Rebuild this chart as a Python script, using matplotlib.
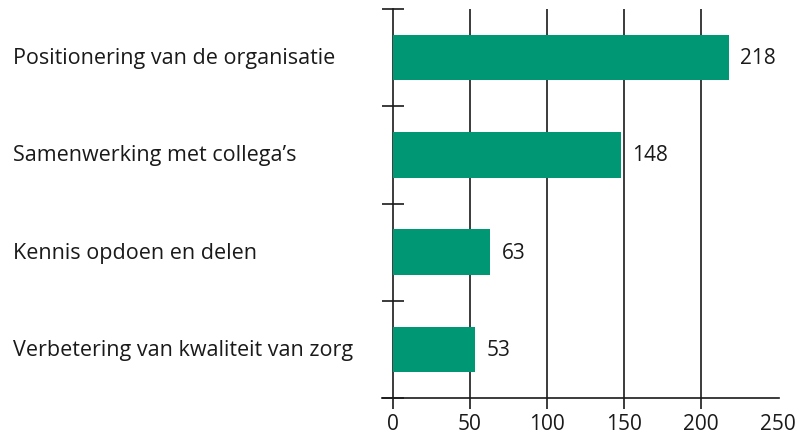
import matplotlib
matplotlib.use("Agg")
import matplotlib.pyplot as plt
from matplotlib.lines import Line2D

categories = ["Positionering van de organisatie", "Samenwerking met collega\u2019s",
              "Kennis opdoen en delen", "Verbetering van kwaliteit van zorg"]
values = [218, 148, 63, 53]
xticks = [0, 50, 100, 150, 200, 250]

GREEN = "#009775"
INK = "#1a1a1a"
plt.rcParams["font.family"] = ["Open Sans", "DejaVu Sans"]

fig = plt.figure(figsize=(8.11, 4.39), dpi=100)
ax = fig.add_axes([393 / 811, 1 - 399 / 439, 385 / 811, 389 / 439])

y = list(range(len(categories)))
ax.barh(y, values, height=0.47, color=GREEN, zorder=3)
for yi, v in zip(y, values):
    ax.text(v + 7.5, yi, str(v), va="center", ha="left", fontsize=15, color=INK)

ax.set_xlim(0, 250)
ax.set_ylim(len(categories) - 0.5, -0.5)

# vertical grid (no line at 250)
for t in xticks[1:-1]:
    ax.axvline(t, color=INK, lw=1.2, zorder=1)

ax.set_xticks(xticks)
ax.set_xticklabels([str(t) for t in xticks], fontsize=15, color=INK)
ax.tick_params(axis="x", length=8, width=1.2, color=INK, pad=3)
ax.xaxis.get_major_ticks()[-1].tick1line.set_visible(False)

# category boundary ticks on the left axis
ax.set_yticks([i - 0.5 for i in range(len(categories) + 1)])
ax.set_yticklabels([])
ax.tick_params(axis="y", direction="inout", length=16, width=1.2, color=INK)
for yi, c in zip(y, categories):
    ax.text(-380 / 385, yi, c, transform=ax.get_yaxis_transform(), va="center", ha="left",
            fontsize=15.5, color=INK)

for s in ["top", "right", "bottom"]:
    ax.spines[s].set_visible(False)
ax.spines["left"].set_color(INK)
ax.spines["left"].set_linewidth(1.2)

# bottom baseline, extended a little past the left axis
ax.add_line(Line2D([-11 / 385, 1.002], [0, 0], transform=ax.transAxes, color=INK,
                   lw=1.2, clip_on=False))

fig.savefig("out.png", dpi=100)
